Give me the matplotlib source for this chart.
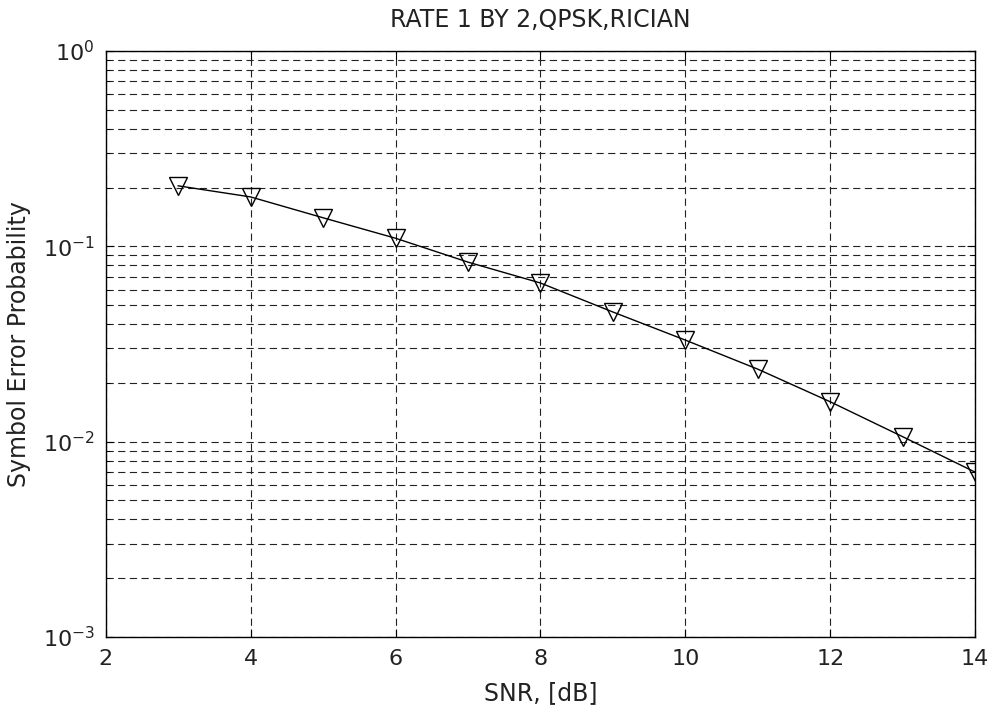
import numpy as np
import matplotlib
matplotlib.use("Agg")
import matplotlib.pyplot as plt
from matplotlib.ticker import LogLocator, FixedLocator

plt.rcParams['font.family'] = ['DejaVu Sans']
plt.rcParams['mathtext.default'] = 'regular'

snr_db = [3, 4, 5, 6, 7, 8, 9, 10, 11, 12, 13, 14]
ser = [0.204, 0.179, 0.140, 0.110, 0.083, 0.0649, 0.0461, 0.0331, 0.0235, 0.0160, 0.0106, 0.00698]
x_ticks = [2, 4, 6, 8, 10, 12, 14]
y_ticks = [1e-3, 1e-2, 1e-1, 1]
y_labels = [r'$10^{-3}$', r'$10^{-2}$', r'$10^{-1}$', r'$10^{0}$']

fig = plt.figure(figsize=(9.88, 7.13), dpi=100)
ax = fig.add_axes([0.107, 0.1066, 0.88, 0.8219])

ax.semilogy(snr_db, ser, color='black', linewidth=1.0, marker='v', markersize=13,
            markerfacecolor='none', markeredgecolor='black', markeredgewidth=1.0)

ax.set_xlim(2, 14)
ax.set_ylim(1e-3, 1)
ax.set_xticks(x_ticks)
ax.set_xticklabels([str(t) for t in x_ticks])
ax.yaxis.set_major_locator(FixedLocator(y_ticks))
ax.set_yticklabels(y_labels)
ax.yaxis.set_minor_locator(LogLocator(base=10, subs=np.arange(2, 10), numticks=20))

dash = (0, (6.5, 4))
ax.grid(True, which='major', axis='both', color='#222222', linestyle=dash, linewidth=0.8)
ax.grid(True, which='minor', axis='y', color='#222222', linestyle=dash, linewidth=0.8)

ax.tick_params(which='both', direction='in', top=True, right=True, labelsize=16,
               color='black', labelcolor='#222222')
ax.tick_params(which='major', length=6)
ax.tick_params(which='minor', length=3)
ax.tick_params(axis='x', pad=9)
ax.tick_params(axis='y', pad=8)
for s in ax.spines.values():
    s.set_linewidth(1.0)

ax.set_xlabel('SNR, [dB]', fontsize=17, color='#222222', labelpad=8)
ax.set_ylabel('Symbol Error Probability', fontsize=17, color='#222222', labelpad=8)
ax.set_title('RATE 1 BY 2,QPSK,RICIAN', fontsize=17, color='#222222', pad=17)

fig.savefig('out.png', dpi=100)
